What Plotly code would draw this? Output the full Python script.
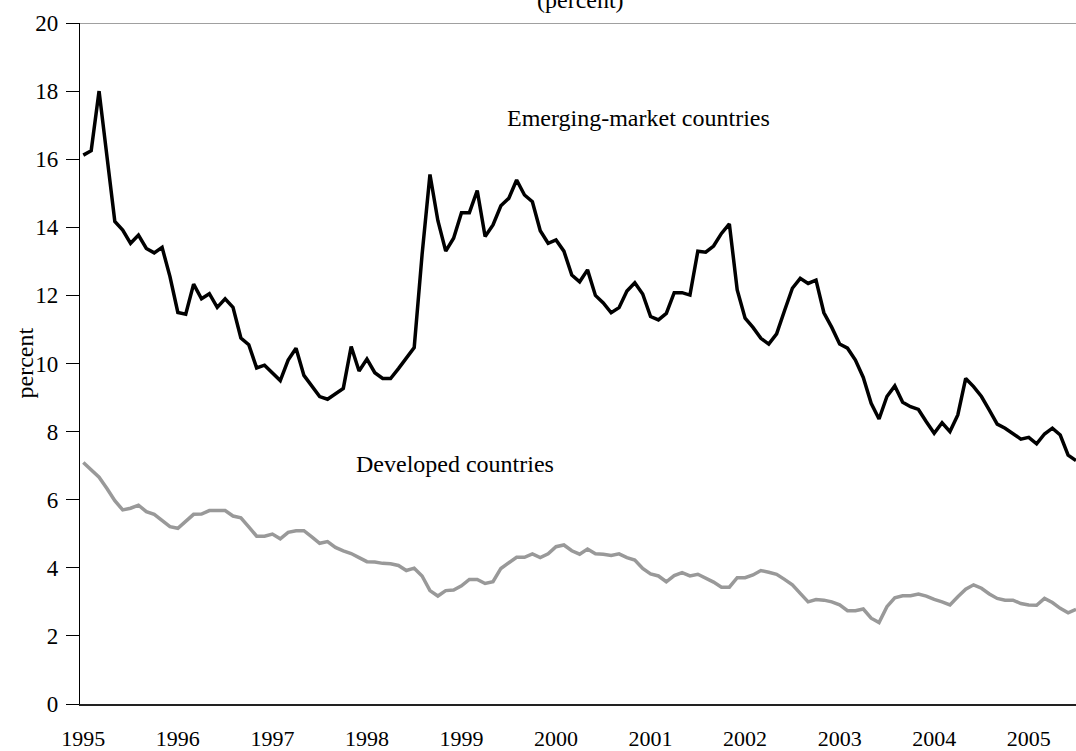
import plotly.graph_objects as go

years = ["1995", "1996", "1997", "1998", "1999", "2000", "2001", "2002", "2003", "2004", "2005"]

emerging = [16.12, 16.25, 18.0, 16.0, 14.17, 13.92, 13.53, 13.77, 13.38, 13.25, 13.41,
            12.55, 11.5, 11.45, 12.33, 11.9, 12.05, 11.65, 11.9, 11.65, 10.75,
            10.55, 9.87, 9.95, 9.72, 9.5, 10.1, 10.45, 9.65, 9.35, 9.03,
            8.95, 9.12, 9.27, 10.5, 9.78, 10.13, 9.73, 9.56, 9.56, 9.85,
            10.15, 10.47, 13.2, 15.55, 14.2, 13.3, 13.68, 14.43, 14.43, 15.08,
            13.73, 14.07, 14.63, 14.85, 15.39, 14.95, 14.75, 13.9, 13.53, 13.63,
            13.3, 12.6, 12.4, 12.75, 12.0, 11.78, 11.49, 11.64, 12.13, 12.37,
            12.04, 11.38, 11.28, 11.47, 12.08, 12.08, 12.01, 13.3, 13.27, 13.45,
            13.82, 14.1, 12.16, 11.33, 11.06, 10.74, 10.57, 10.87, 11.55, 12.21,
            12.5, 12.35, 12.45, 11.49, 11.06, 10.57, 10.45, 10.1, 9.59, 8.83,
            8.37, 9.03, 9.34, 8.86, 8.73, 8.65, 8.29, 7.95, 8.26, 8.0,
            8.49, 9.56, 9.32, 9.03, 8.63, 8.22, 8.1, 7.95, 7.78, 7.83,
            7.64, 7.93, 8.1, 7.9, 7.31, 7.15]

developed = [7.09, 6.87, 6.66, 6.33, 5.97, 5.7, 5.75, 5.84, 5.65, 5.57, 5.4,
             5.21, 5.16, 5.35, 5.57, 5.58, 5.68, 5.68, 5.68, 5.52, 5.47,
             5.2, 4.93, 4.93, 4.99, 4.85, 5.04, 5.09, 5.09, 4.91, 4.72,
             4.77, 4.6, 4.5, 4.42, 4.3, 4.18, 4.17, 4.13, 4.12, 4.07,
             3.92, 3.99, 3.76, 3.33, 3.17, 3.33, 3.35, 3.47, 3.66, 3.66,
             3.54, 3.59, 3.98, 4.13, 4.31, 4.31, 4.41, 4.3, 4.41, 4.62,
             4.67, 4.5, 4.4, 4.55, 4.41, 4.4, 4.36, 4.41, 4.3, 4.23,
             3.98, 3.82, 3.76, 3.59, 3.77, 3.86, 3.76, 3.81, 3.69, 3.58,
             3.43, 3.43, 3.71, 3.71, 3.79, 3.92, 3.87, 3.81, 3.66, 3.5,
             3.25, 3.0, 3.07, 3.05, 3.0, 2.91, 2.74, 2.74, 2.79, 2.52,
             2.39, 2.86, 3.12, 3.18, 3.18, 3.23, 3.17, 3.07, 3.0, 2.91,
             3.15, 3.37, 3.5, 3.4, 3.23, 3.1, 3.05, 3.05, 2.95, 2.91,
             2.9, 3.1, 2.98, 2.81, 2.68, 2.78]

months = list(range(len(emerging)))
year_ticks = [12 * i for i in range(len(years))]

FONT = "Liberation Serif, Times New Roman, serif"

fig = go.Figure()
fig.add_trace(go.Scatter(x=months, y=developed, mode="lines",
                         line=dict(color="#999999", width=3.5),
                         name="Developed countries", hoverinfo="skip"))
fig.add_trace(go.Scatter(x=months, y=emerging, mode="lines",
                         line=dict(color="#000000", width=3.5),
                         name="Emerging-market countries", hoverinfo="skip"))

fig.update_layout(
    width=1076, height=751,
    margin=dict(l=80, r=0, t=23, b=47, pad=0, autoexpand=False),
    paper_bgcolor="white", plot_bgcolor="white",
    showlegend=False,
    font=dict(family=FONT, size=22, color="black"),
    xaxis=dict(range=[-0.42, 126.0], tickvals=year_ticks, ticktext=years,
               showgrid=False, zeroline=False, showline=True, automargin=False,
               linecolor="#222222", linewidth=1.5, ticks="",
               ticklabelstandoff=14,
               tickfont=dict(family=FONT, size=22, color="black")),
    yaxis=dict(range=[0, 20], tickvals=list(range(0, 21, 2)),
               showgrid=False, zeroline=False, showline=True, automargin=False,
               linecolor="#000000", linewidth=1.2, ticks="outside",
               ticklen=13, tickcolor="#000000", tickwidth=1.2,
               ticklabelstandoff=3,
               tickfont=dict(family=FONT, size=23, color="black")),
    shapes=[dict(type="line", xref="paper", yref="y", x0=0, x1=1, y0=20, y1=20,
                 line=dict(color="#808080", width=1.5))],
    annotations=[
        dict(text="Emerging-market countries", x=70.5, y=17.21, xref="x", yref="y",
             showarrow=False, xanchor="center", yanchor="middle",
             font=dict(family=FONT, size=24, color="black")),
        dict(text="Developed countries", x=47.2, y=7.05, xref="x", yref="y",
             showarrow=False, xanchor="center", yanchor="middle",
             font=dict(family=FONT, size=24, color="black")),
        dict(text="percent", x=(24 - 80) / 996, y=0.5, xref="paper", yref="paper",
             showarrow=False, textangle=-90, xanchor="center", yanchor="middle",
             font=dict(family=FONT, size=24, color="black")),
        dict(text="(percent)", x=(580 - 80) / 996, y=1 + 23 / 681, xref="paper", yref="paper",
             showarrow=False, xanchor="center", yanchor="middle",
             font=dict(family=FONT, size=24, color="black")),
    ],
)

fig.write_html("out.html", config={"displayModeBar": False},
               post_script="document.body.style.margin='0';document.body.style.overflow='hidden';")
